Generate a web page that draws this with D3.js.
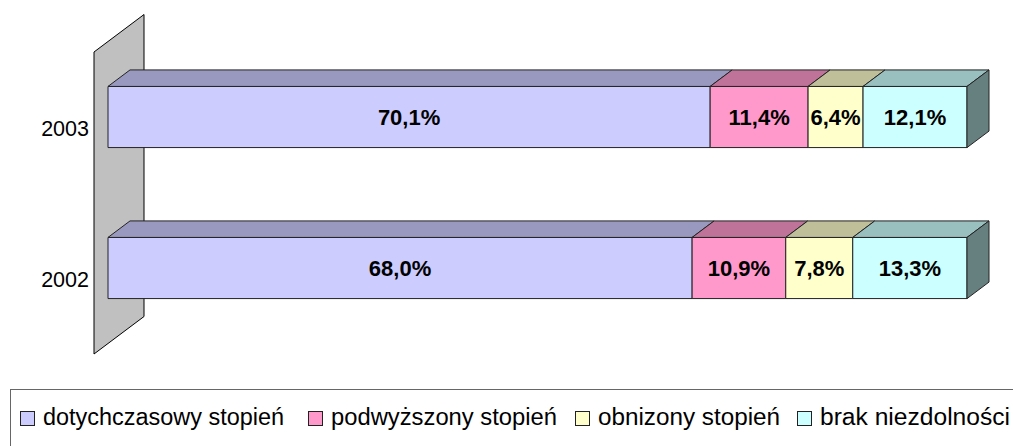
<!DOCTYPE html>
<html>
<head>
<meta charset="utf-8">
<script src="https://cdn.jsdelivr.net/npm/d3@7/dist/d3.min.js"></script>
<style>
	body { margin: 0; background: #fff; }
	svg { display: block; font-family: Arial, "Liberation Sans", sans-serif; }
</style>
</head>
<body>
<script>
var categories = ["2003", "2002"];
var seriesnames = ["dotychczasowy stopień", "podwyższony stopień", "obnizony stopień", "brak niezdolności"];
var values2003 = [70.1, 11.4, 6.4, 12.1];
var values2002 = [68.0, 10.9, 7.8, 13.3];
var valuelabels2003 = ["70,1%", "11,4%", "6,4%", "12,1%"];
var valuelabels2002 = ["68,0%", "10,9%", "7,8%", "13,3%"];
var frontcolors = ["#CCCCFF", "#FF99CC", "#FFFFCC", "#CCFFFF"];

window.onload = function(){
	var width = 1013, height = 446;
	var svg = d3.select("body").append("svg")
		.attr("width", width)
		.attr("height", height);

	// depth direction of the 3d look
	var kx = 1, ky = -0.75;
	var wallDepth = 50, barFront = 14, barBack = 36;

	var x = d3.scaleLinear().domain([0, 100]).range([94, 953]);
	var y = d3.scaleBand().domain(categories).range([52, 354])
		.paddingInner(0.595).paddingOuter(0.2975);

	var rows = [values2003, values2002];
	var labels = [valuelabels2003, valuelabels2002];

	// wall
	var wx = x(0), wy0 = y.range()[0], wy1 = y.range()[1];
	svg.append("polygon")
		.attr("points", [
			[wx, wy0], [wx + wallDepth * kx, wy0 + wallDepth * ky],
			[wx + wallDepth * kx, wy1 + wallDepth * ky], [wx, wy1]
		].join(" "))
		.attr("fill", "#C0C0C0")
		.attr("stroke", "#000")
		.attr("stroke-width", 1);

	function shade(c, f){
		var col = d3.rgb(c);
		return d3.rgb(col.r * f, col.g * f, col.b * f).toString();
	}

	categories.forEach(function(cat, i){
		var vals = rows[i];
		var starts = d3.cumsum([0].concat(vals.slice(0, -1)));
		var fdx = barFront * kx, fdy = barFront * ky;
		var bdx = barBack * kx, bdy = barBack * ky;
		var top = y(cat) + fdy, bot = y(cat) + y.bandwidth() + fdy;
		var g = svg.append("g");

		vals.forEach(function(v, j){
			var x0 = x(starts[j]) + fdx, x1 = x(starts[j] + v) + fdx;
			var ddx = bdx - fdx, ddy = bdy - fdy;
			// front
			g.append("polygon")
				.attr("points", [[x0, top], [x1, top], [x1, bot], [x0, bot]].join(" "))
				.attr("fill", frontcolors[j])
				.attr("stroke", "#222").attr("stroke-width", 1);
			// top
			g.append("polygon")
				.attr("points", [[x0, top], [x0 + ddx, top + ddy], [x1 + ddx, top + ddy], [x1, top]].join(" "))
				.attr("fill", shade(frontcolors[j], 0.75))
				.attr("stroke", "#222").attr("stroke-width", 1);
			// end side
			if (j === vals.length - 1){
				g.append("polygon")
					.attr("points", [[x1, top], [x1 + ddx, top + ddy], [x1 + ddx, bot + ddy], [x1, bot]].join(" "))
					.attr("fill", shade(frontcolors[j], 0.5))
					.attr("stroke", "#222").attr("stroke-width", 1);
			}
			g.append("text")
				.attr("x", (x0 + x1) / 2)
				.attr("y", (top + bot) / 2 + 8)
				.attr("text-anchor", "middle")
				.attr("font-size", "22px")
				.attr("font-weight", "bold")
				.text(labels[i][j]);
		});

		svg.append("text")
			.attr("x", 89)
			.attr("y", y(cat) + y.bandwidth() / 2 + 8)
			.attr("text-anchor", "end")
			.attr("font-size", "21.5px")
			.text(cat);
	});

	// legend
	var legend = svg.append("g");
	legend.append("rect")
		.attr("x", 10.5).attr("y", 389.5)
		.attr("width", 1010).attr("height", 100)
		.attr("fill", "none")
		.attr("stroke", "#666").attr("stroke-width", 1);
	var legx = [43, 331, 598, 820];
	var legw = [241, 226, 182, 190];
	seriesnames.forEach(function(name, j){
		legend.append("rect")
			.attr("x", legx[j] - 22.5).attr("y", 411.5)
			.attr("width", 14).attr("height", 14)
			.attr("fill", frontcolors[j])
			.attr("stroke", "#222").attr("stroke-width", 1);
		legend.append("text")
			.attr("x", legx[j])
			.attr("y", 425)
			.attr("font-size", "23.5px")
			.attr("textLength", legw[j])
			.attr("lengthAdjust", "spacingAndGlyphs")
			.text(name);
	});
};
</script>
</body>
</html>
